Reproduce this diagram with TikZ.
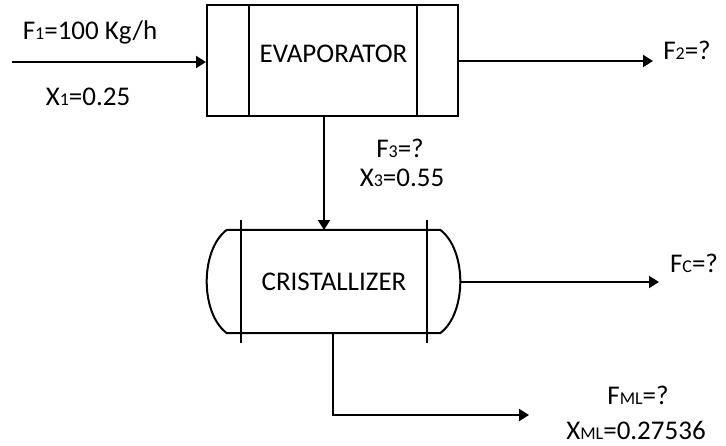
\documentclass[tikz,border=0pt]{standalone}
\usepackage{fontspec}
\setmainfont{Carlito}
\usetikzlibrary{arrows.meta}
\newcommand\smsub[1]{{\fontsize{18}{18}\selectfont #1}}
\begin{document}
\begin{tikzpicture}[x=1pt,y=-1pt,
  line/.style={line width=2pt},
  flow/.style={line, -{Triangle[length=10pt,width=12pt]}},
  lbl/.style={inner sep=0pt, font=\fontsize{27}{30}\selectfont}]
\useasboundingbox (0,0) rectangle (726,445);
% evaporator
\node[line, draw, rectangle, minimum width=251pt, minimum height=111pt, inner sep=0pt] (evap) at (332.5,60.5) {};
\draw[line] (249,5) -- (249,116) (417,5) -- (417,116);
\node[lbl] (evlbl) at (333.5,54) {EVAPORATOR};
% crystallizer
\node[minimum width=213pt, minimum height=103pt, inner sep=0pt] (cris) at (333.5,281.5) {};
\draw[line] (cris.north west) -- (cris.north east)
  .. controls (467,250) and (467,313) .. (cris.south east) -- (cris.south west)
  .. controls (200,313) and (200,250) .. (cris.north west);
\draw[line] (241,220) -- (241,343) (427,220) -- (427,343);
\node[lbl] (crlbl) at (334,282) {CRISTALLIZER};
% streams
\coordinate (in1) at (12,62);
\coordinate (out2) at (653,61);
\coordinate (evb) at (324,116);
\coordinate (crt) at (324,230);
\coordinate (cre) at (461,282);
\coordinate (outc) at (659,282);
\coordinate (crb) at (333,333);
\coordinate (bend) at (333,415);
\coordinate (outml) at (529,415);
\draw[flow] (in1) -- (in1 -| evap.west);
\draw[flow] (evap.east |- out2) -- (out2);
\draw[flow] (evb) -- (crt);
\draw[flow] (cre) -- (outc);
\draw[flow] (crb) -- (bend) -- (outml);
% labels
\node[lbl] (f1) at (90,32) {F\smsub{1}=100 Kg/h};
\node[lbl] (x1) at (88,97) {X\smsub{1}=0.25};
\node[lbl] (f2) at (687,50) {F\smsub{2}=?};
\node[lbl] (f3) at (400,148) {F\smsub{3}=?};
\node[lbl] (x3) at (402,178) {X\smsub{3}=0.55};
\node[lbl] (fc) at (694,263) {F\smsub{C}=?};
\node[lbl] (fml) at (638,395) {F\smsub{ML}=?};
\node[lbl] (xml) at (636,430) {X\smsub{ML}=0.27536};
\end{tikzpicture}
\end{document}
